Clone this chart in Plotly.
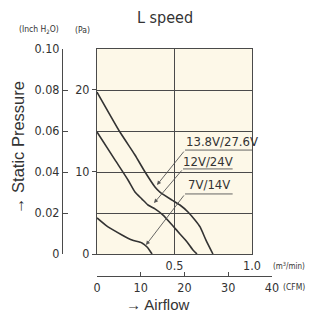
import plotly.graph_objects as go

# ---------------- data ----------------
# airflow in m^3/min, static pressure in inch H2O
v138_x = [0, 0.148, 0.245, 0.310, 0.374, 0.406, 0.484, 0.535, 0.587, 0.632, 0.665, 0.703, 0.748]
v138_y = [0.0790, 0.0595, 0.0483, 0.0400, 0.0327, 0.0302, 0.0263, 0.0239, 0.0205, 0.0166, 0.0132, 0.0068, 0.0]

v12_x = [0, 0.116, 0.200, 0.245, 0.290, 0.329, 0.374, 0.426, 0.490, 0.535, 0.581, 0.619, 0.645]
v12_y = [0.0595, 0.0459, 0.0361, 0.0302, 0.0268, 0.0239, 0.0220, 0.0190, 0.0137, 0.0098, 0.0059, 0.0020, 0.0]

v7_x = [0, 0.071, 0.161, 0.226, 0.290, 0.323, 0.342, 0.355]
v7_y = [0.0176, 0.0132, 0.0093, 0.0068, 0.0054, 0.0034, 0.0015, 0.0]

series_names = ["13.8V/27.6V", "12V/24V", "7V/14V"]

inch_ticks = [0, 0.02, 0.04, 0.06, 0.08, 0.10]
inch_ticktext = ["0", "0.02", "0.04", "0.06", "0.08", "0.10"]
pa_ticks = [0, 10, 20]
m3_ticks = [0.5, 1.0]
m3_ticktext = ["0.5", "1.0"]
cfm_ticks = [0, 10, 20, 30, 40]

PA_PER_INCH = 249.089

# label / leader geometry (data coords: m3/min, inch H2O)
label_pos = [(0.806, 0.0547), (0.719, 0.0452), (0.723, 0.0337)]
arrow_tip = [(0.387, 0.0337), (0.368, 0.0249), (0.316, 0.0044)]
arrow_tail = [(0.568, 0.0507), (0.555, 0.0415), (0.568, 0.0293)]
underline_end = [1.03, 0.875, 0.875]

# ---------------- styling / page geometry ----------------
OFF = 8                      # default body margin of the html page
W, H = 315 - OFF, 316 - OFF  # figure size so that it fills the window


def fx(px):
    return (px - OFF) / W


def fy(py):
    return (H - (py - OFF)) / H


NARROW = "DejaVu Sans Condensed, Liberation Sans Narrow, Arial Narrow, sans-serif"
SANS = "Liberation Sans, Arial, sans-serif"
TXT = "#333333"
GRID = "#4a4a4a"
CREAM = "#fdf8e8"

px_left, px_right, px_top, px_bottom = 97, 252, 49, 254
px_inch_axis = 63
px_cfm_axis = 276
px_cfm_end = 272

xdom = [fx(px_left), fx(px_right)]
ydom = [fy(px_bottom), fy(px_top)]

fig = go.Figure()

for xs, ys, name in zip([v138_x, v12_x, v7_x], [v138_y, v12_y, v7_y], series_names):
    fig.add_trace(go.Scatter(
        x=xs, y=ys, mode="lines", name=name, xaxis="x", yaxis="y",
        line=dict(color="#333333", width=1.6, shape="spline", smoothing=0.5),
        hoverinfo="skip", showlegend=False))


def dummy(xa, ya, xs, ys):
    fig.add_trace(go.Scatter(x=xs, y=ys, xaxis=xa, yaxis=ya, mode="lines",
                             line=dict(width=0), opacity=0, hoverinfo="skip", showlegend=False))


dummy("x", "y4", [0, 1], [0, 0.1])                              # grid axis (inch)
dummy("x2", "y3", [cfm_ticks[0], cfm_ticks[-1]], [0.5, 0.5])    # CFM axis
dummy("x3", "y2", [0.5, 0.5], [0, 0.1])                         # inch axis

tickfont = dict(family=NARROW, size=12.5, color=TXT)

fig.update_layout(
    width=W, height=H, autosize=False, margin=dict(l=0, r=0, t=0, b=0, pad=0),
    paper_bgcolor="white", plot_bgcolor="rgba(0,0,0,0)",
    showlegend=False,
    xaxis=dict(domain=xdom, range=[0, 1], anchor="y",
               tickmode="array", tickvals=m3_ticks, ticktext=m3_ticktext,
               ticks="", showgrid=True, gridcolor=GRID, gridwidth=1,
               showline=True, mirror=True, linecolor=GRID, linewidth=1,
               zeroline=False, tickfont=tickfont, automargin=False),
    yaxis=dict(domain=ydom, range=[0, 0.1], anchor="x",
               tickmode="array", tickvals=[p / PA_PER_INCH for p in pa_ticks],
               ticktext=[str(p) for p in pa_ticks],
               ticks="outside", ticklen=4, tickcolor=GRID,
               showgrid=False, showline=True, mirror=True, linecolor=GRID, linewidth=1,
               zeroline=False, tickfont=tickfont, automargin=False),
    yaxis4=dict(overlaying="y", anchor="x", side="left", range=[0, 0.1],
                tickmode="array", tickvals=inch_ticks, showticklabels=False, ticks="",
                showgrid=True, gridcolor=GRID, gridwidth=1, showline=False,
                zeroline=False, automargin=False),
    xaxis3=dict(domain=[fx(px_inch_axis), fx(px_inch_axis + 1)], range=[0, 1],
                anchor="y2", visible=False),
    yaxis2=dict(domain=ydom, anchor="x3", side="left", range=[0, 0.1],
                tickmode="array", tickvals=inch_ticks, ticktext=inch_ticktext,
                ticks="inside", ticklen=5, tickcolor=GRID,
                showgrid=False, showline=True, linecolor=GRID, linewidth=1,
                zeroline=False, tickfont=tickfont, automargin=False),
    xaxis2=dict(domain=[fx(px_left), fx(px_cfm_end)], range=[0, 40], anchor="y3", side="bottom",
                tickmode="array", tickvals=cfm_ticks,
                ticks="inside", ticklen=4, tickcolor=GRID,
                showgrid=False, showline=True, linecolor=GRID, linewidth=1, zeroline=False,
                tickfont=tickfont, automargin=False),
    yaxis3=dict(domain=[fy(px_cfm_axis), fy(px_cfm_axis - 1)], range=[0, 1],
                anchor="x2", visible=False),
)

# cream plot background
fig.add_shape(type="rect", xref="x domain", yref="y domain", x0=0, x1=1, y0=0, y1=1,
              fillcolor=CREAM, line=dict(width=0), layer="below")

ann = []


def ptext(text, px, py, size, family=NARROW, angle=0):
    ann.append(dict(text=text, x=fx(px), y=fy(py), xref="paper", yref="paper",
                    xanchor="center", yanchor="middle", textangle=angle,
                    showarrow=False, font=dict(family=family, size=size, color=TXT)))


ptext("L speed", 164.5, 17, 16)
ptext("(Inch H<sub>2</sub>O)", 38.5, 30, 8.5)
ptext("(Pa)", 82.5, 30, 8.5)
ptext("(m<sup>3</sup>/min)", 289, 266, 8)
ptext("(CFM)", 294, 287, 8.5)
ptext("→ Static Pressure", 18, 148, 16.5, family=SANS, angle=-90)
ptext("→ Airflow", 158, 304, 15, family=SANS)

for name, (lx, ly), (tx, ty), (ax_, ay_), ue in zip(series_names, label_pos, arrow_tip, arrow_tail, underline_end):
    ann.append(dict(text=name, x=lx, y=ly, xref="x", yref="y", showarrow=False,
                    xanchor="center", yanchor="middle",
                    font=dict(family=NARROW, size=13, color=TXT)))
    ann.append(dict(text="", x=tx, y=ty, xref="x", yref="y", ax=ax_, ay=ay_, axref="x", ayref="y",
                    showarrow=True, arrowhead=2, arrowsize=0.9, arrowwidth=0.9,
                    arrowcolor="#555555", standoff=0))
    fig.add_shape(type="line", xref="x", yref="y", x0=ax_, x1=ue, y0=ay_, y1=ay_,
                  line=dict(color="#555555", width=0.9))

fig.update_layout(annotations=ann)

fig.write_html("out.html")
